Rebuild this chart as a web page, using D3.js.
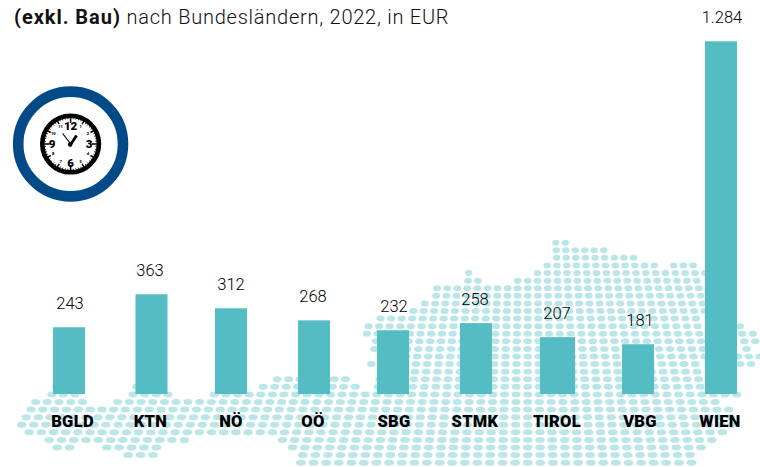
<!DOCTYPE html>
<html><head><meta charset="utf-8">
<script src="https://cdn.jsdelivr.net/npm/d3@7"></script>
<style>html,body{margin:0;padding:0;background:#fff}svg{display:block;font-family:Roboto,sans-serif}</style>
</head><body><svg id="c" width="760" height="467"></svg>
<script>
const categories = ["BGLD","KTN","NÖ","OÖ","SBG","STMK","TIROL","VBG","WIEN"];
const values = [243,363,312,268,232,258,207,181,1284];
const titleBold = "(exkl. Bau)";
const titleRest = " nach Bundesländern, 2022, in EUR";
// decorative dot map of Austria: for each grid row, the horizontal extents it covers
const mapRows = [
 [[553,568]],[[553,606]],[[553,636]],
 [[461,467],[546,657],[669,694]],
 [[461,476],[537,706]],
 [[461,486],[509,706]],
 [[431,706]],[[431,706]],[[420,706]],[[409,706]],
 [[378,706],[739,745]],
 [[367,706],[738,750]],
 [[365,706],[738,760]],
 [[372,706],[738,760]],
 [[371,706],[741,757]],
 [[378,706],[737,760]],
 [[369,706],[737,760]],
 [[378,706]],
 [[268,355],[378,706]],
 [[47,87],[128,168],[252,364],[378,706]],
 [[46,82],[125,170],[205,745]],
 [[30,83],[111,722]],
 [[25,732]],[[20,735]],[[14,735]],[[23,733]],
 [[43,185],[275,722]],
 [[51,71],[101,157],[285,713]],
 [[122,155],[296,692]],
 [[295,692]]
];

const svg = d3.select("#c");
const fmt = d3.formatLocale({decimal:",",thousands:".",grouping:[3],currency:["","€"]}).format(",d");
const barX = d3.scaleOrdinal().domain(categories).range([69,151.5,231,314,393,476,557.5,638,721]);
const barW = d3.scaleOrdinal().domain(categories).range([32,32,32,32,32,32,35,32,32]);
const labelX = d3.scaleOrdinal().domain(categories).range([72.5,150.5,231,313,394,475,557,640,720]);
const valueX = d3.scaleOrdinal().domain(categories).range([70,150,231,313,394,475,557,640,722]);
const y = d3.scaleLinear().domain([0,1284]).range([394,41.3]);

// dot map, perspective grid
const rowY = d3.scaleLinear().domain([0,29]).range([242.7,462.7]);
const rowStep = d3.scaleLinear().domain([0,29]).range([9.4,12.6]);
const dots = [];
mapRows.forEach((spans,i)=>{
  const s = rowStep(i);
  spans.forEach(([a,b])=>{
    d3.range(Math.ceil((a-527.7)/s), Math.floor((b-527.7)/s)+1).forEach(c=>{
      dots.push({x:527.7+c*s, y:rowY(i), rx:s*0.39, ry:3});
    });
  });
});
svg.append("g").selectAll("ellipse").data(dots).join("ellipse")
  .attr("cx",d=>d.x).attr("cy",d=>d.y).attr("rx",d=>d.rx).attr("ry",d=>d.ry).attr("fill","#bbe6e8");

// bars
svg.append("g").selectAll("rect").data(categories).join("rect")
  .attr("x",d=>barX(d)-barW(d)/2).attr("width",d=>barW(d))
  .attr("y",(d,i)=>y(values[i])).attr("height",(d,i)=>y(0)-y(values[i]))
  .attr("fill","#54bcc3");

// value labels
svg.append("g").selectAll("text").data(categories).join("text")
  .attr("x",d=>valueX(d)).attr("y",(d,i)=>y(values[i])-18.6)
  .attr("text-anchor","middle").attr("font-size",16.5).attr("font-weight",300).attr("fill","#000")
  .text((d,i)=>fmt(values[i]));

// category labels
svg.append("g").selectAll("text").data(categories).join("text")
  .attr("x",d=>labelX(d)).attr("y",427).attr("text-anchor","middle")
  .attr("font-size",16.5).attr("font-weight",900).attr("fill","#000").attr("letter-spacing",0.3)
  .text(d=>d);

// title
const t = svg.append("text").attr("x",14).attr("y",24).attr("font-size",20).attr("fill","#111");
t.append("tspan").attr("font-weight",700).attr("letter-spacing",0.95).text(titleBold);
t.append("tspan").attr("font-weight",300).attr("letter-spacing",0.76).text(titleRest);

// clock icon
const cx=70.6, cy=144;
const icon = svg.append("g").attr("transform",`translate(${cx},${cy})`);
icon.append("circle").attr("r",52.4).attr("fill","#fff").attr("stroke","#004a87").attr("stroke-width",10.6);
icon.append("circle").attr("r",28.3).attr("fill","#fff").attr("stroke","#000").attr("stroke-width",4.6);
const tick = d3.range(60);
icon.selectAll("line.t").data(tick).join("line").attr("class","t")
  .attr("x1",d=>Math.sin(d*Math.PI/30)*26.5).attr("y1",d=>-Math.cos(d*Math.PI/30)*26.5)
  .attr("x2",d=>Math.sin(d*Math.PI/30)*(d%15==0?21:d%5==0?23:24.8)).attr("y2",d=>-Math.cos(d*Math.PI/30)*(d%15==0?21:d%5==0?23:24.8))
  .attr("stroke","#000").attr("stroke-width",d=>d%5==0?1.5:0.8);
const hours = d3.range(1,13);
icon.selectAll("text").data(hours).join("text")
  .attr("x",d=>Math.sin(d*Math.PI/6)*(d%3==0?18.5:20)).attr("y",d=>-Math.cos(d*Math.PI/6)*(d%3==0?18.5:20))
  .attr("dy","0.36em").attr("text-anchor","middle")
  .attr("font-size",d=>d%3==0?11.5:4).attr("font-weight",900).attr("fill","#000")
  .text(d=>d);
icon.append("line").attr("x1",1).attr("y1",1).attr("x2",-8).attr("y2",-10.5).attr("stroke","#000").attr("stroke-width",1.2);
icon.append("line").attr("x1",-1).attr("y1",2).attr("x2",6).attr("y2",-8.5).attr("stroke","#000").attr("stroke-width",2.8);
icon.append("circle").attr("r",2.2).attr("cx",-0.5).attr("cy",0.5).attr("fill","#000");
</script></body></html>
